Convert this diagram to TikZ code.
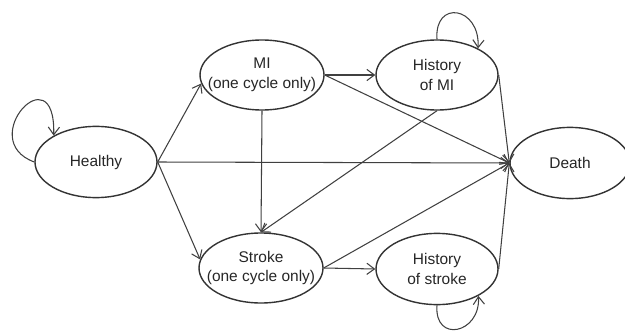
\documentclass[tikz,border=0pt]{standalone}
\usepackage{fontspec}
\setmainfont{Liberation Sans}
\usetikzlibrary{shapes.geometric, arrows.meta, calc}

\begin{document}
\begin{tikzpicture}[
    state/.style={draw=black!80, line width=1pt, ellipse, minimum width=3.05cm, minimum height=1.78cm, inner sep=0pt},
    txt/.style={font=\fontsize{11}{14}\selectfont, align=center, text=black!85},
    trans/.style={draw=black!75, line width=0.75pt, -{Straight Barb[length=1.9mm, width=2.8mm]}}
]
    \useasboundingbox (0,0) rectangle (15.625,8.25);
    % states
    \node[state, label={[txt]center:Healthy}] (healthy) at (2.4,4.2) {};
    \node[state, minimum width=3.1cm, minimum height=1.75cm, label={[txt]center:MI\\(one cycle only)}] (mi) at (6.55,6.375) {};
    \node[state, minimum height=1.75cm, label={[txt]center:History\\of MI}] (hmi) at (10.925,6.375) {};
    \node[state, minimum width=3.0cm, label={[txt]center:Death}] (death) at (14.25,4.175) {};
    \node[state, minimum width=3.1cm, minimum height=1.75cm, label={[txt]center:Stroke\\(one cycle only)}] (stroke) at (6.525,1.55) {};
    \node[state, label={[txt]center:History\\of stroke}] (hs) at (10.925,1.525) {};
    % transitions
    \draw[trans] (healthy.east) -- (mi.188);
    \draw[trans] (healthy.east) -- (stroke.172);
    \draw[trans] (healthy.east) -- (death.west);
    \draw[trans] (mi.east) -- (hmi.west);
    \draw[trans] (mi.east) -- (death.west);
    \draw[trans] (mi.south) -- (stroke.north);
    \draw[trans] (hmi.south) -- (stroke.north);
    \draw[trans] (hmi.east) -- (death.west);
    \draw[trans] (stroke.east) -- (death.west);
    \draw[trans] (stroke.east) -- (hs.west);
    \draw[trans] (hs.east) -- (death.west);
    % self loops
    \draw[trans] (healthy.west) .. controls +(-1.5,0.55) and +(0.05,2.1) .. (healthy.148);
    \draw[trans] (hmi.north) .. controls +(-0.075,1.0) and +(0.05,1.05) .. (hmi.33);
    \draw[trans] (hs.south) .. controls +(-0.075,-0.95) and +(0.05,-0.95) .. (hs.-33);
\end{tikzpicture}
\end{document}
